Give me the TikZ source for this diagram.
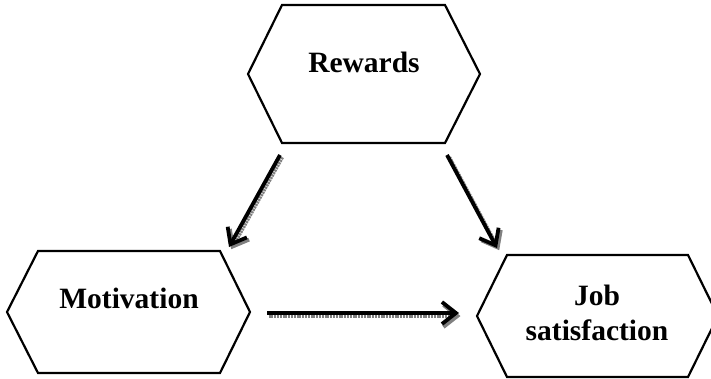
\documentclass[tikz,border=0pt]{standalone}
\usepackage{fontspec}
\setmainfont{Liberation Serif}
\usetikzlibrary{arrows.meta}
\tikzset{
  hexa/.style={draw=black, line width=2.2pt, line join=miter},
  lbl/.style={font=\fontsize{29.5}{35}\selectfont\bfseries, inner sep=0pt, align=center},
  arr/.style={draw=black, line width=3.8pt, -{Straight Barb[length=14pt, width=22pt, line width=3.8pt]}},
  arrsh/.style={draw=black!50, line width=3.8pt, dash pattern=on 2pt off 0.8pt, -{Straight Barb[length=14pt, width=22pt, line width=3.8pt]}},
}
\begin{document}
\begin{tikzpicture}[x=1pt, y=-1pt]
\useasboundingbox (0,0) rectangle (711,378);
\clip (0,0) rectangle (711,378);
% hexagons
\draw[hexa] (248,74) -- (282,5) -- (445,5) -- (480,74) -- (445,143) -- (282,143) -- cycle;
\draw[hexa] (7,312) -- (38,251) -- (220,251) -- (250,312) -- (220,373) -- (38,373) -- cycle;
\draw[hexa] (477,316) -- (507,255) -- (688,255) -- (718,316) -- (688,377) -- (507,377) -- cycle;
% labels
\node[lbl, anchor=base] (rew) at (364,72) {Rewards};
\node[lbl, anchor=base] (mot) at (129,308) {Motivation};
\node[lbl] (job) at (597,313) {Job\\satisfaction};
% connector end points
\coordinate (rwL) at (280,155);
\coordinate (moT) at (229,247);
\coordinate (rwR) at (447,155);
\coordinate (jbT) at (497,248);
\coordinate (moR) at (267,313);
\coordinate (jbL) at (459,313);
% shadows
\draw[arrsh] ([shift={(2.2,2.2)}]rwL) -- ([shift={(2.2,2.2)}]moT);
\draw[arrsh] ([shift={(2.2,2.2)}]rwR) -- ([shift={(2.2,2.2)}]jbT);
\draw[arrsh] ([shift={(1.5,3)}]moR) -- ([shift={(1.5,3)}]jbL);
% arrows
\draw[arr] (rwL) -- (moT);
\draw[arr] (rwR) -- (jbT);
\draw[arr] (moR) -- (jbL);
\end{tikzpicture}
\end{document}
